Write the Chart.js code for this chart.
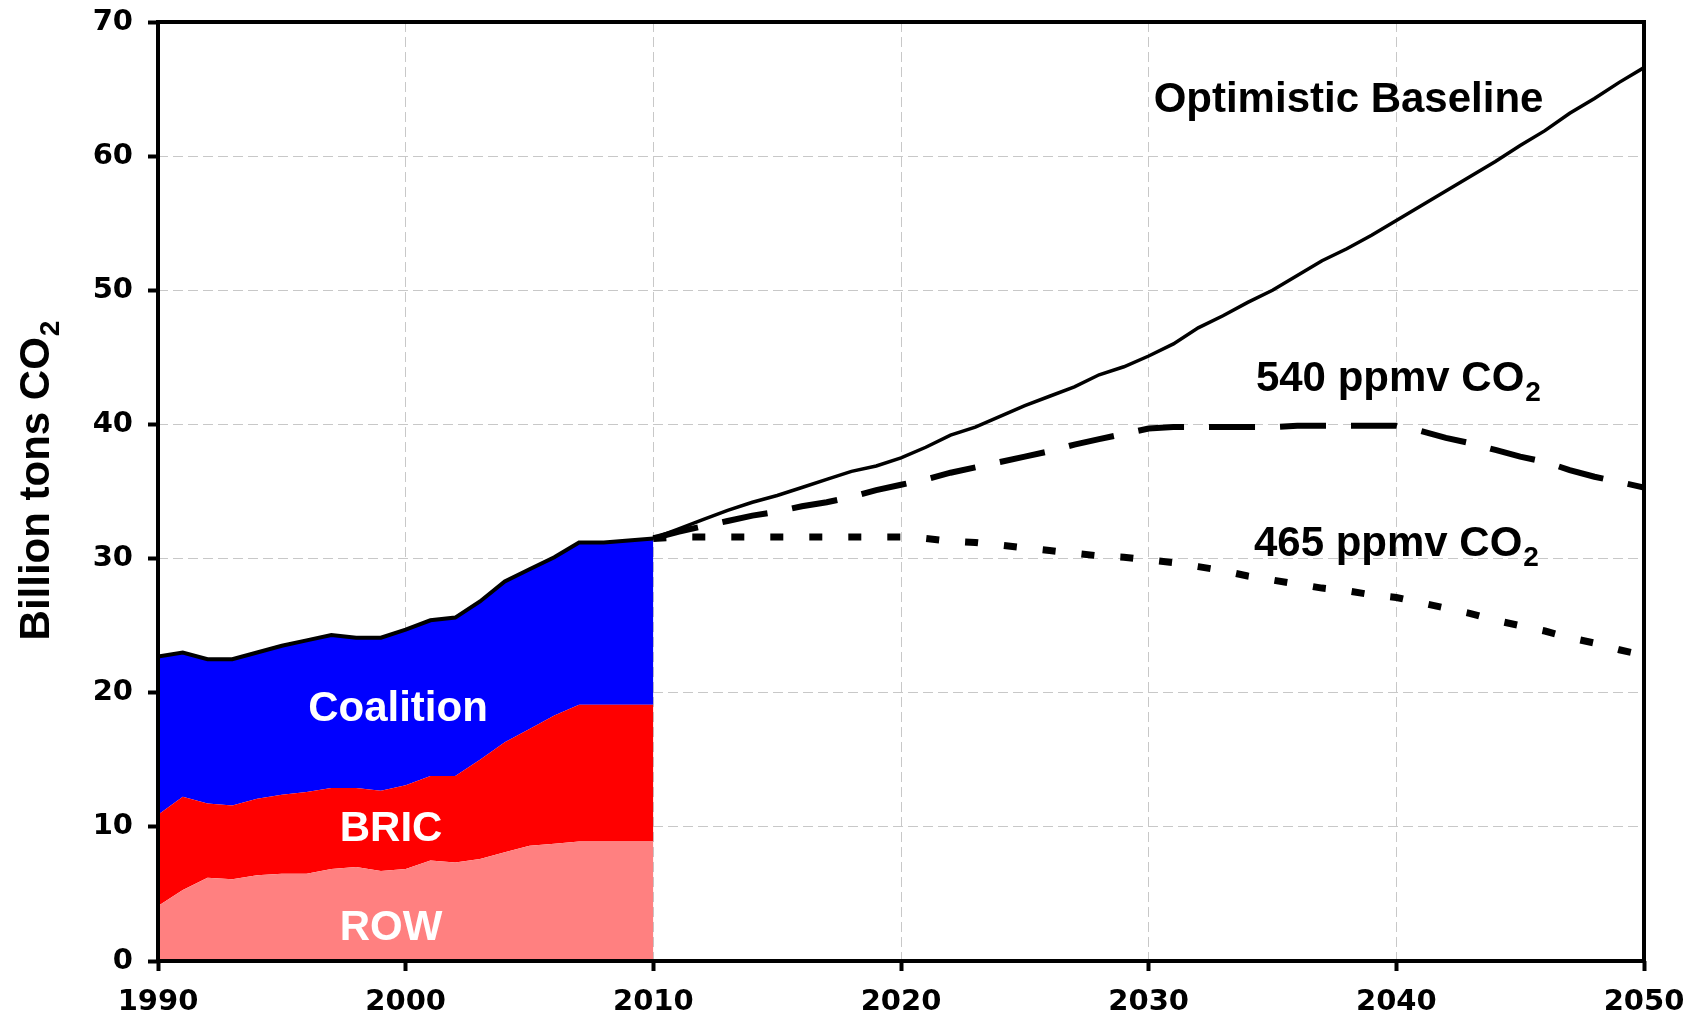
<!DOCTYPE html>
<html>
<head>
<meta charset="utf-8">
<script src="https://cdn.jsdelivr.net/npm/chart.js@4.4.1/dist/chart.umd.min.js"></script>
<style>
  html, body { margin: 0; padding: 0; background: #fff; }
  #chart { display: block; }
</style>
</head>
<body>
<canvas id="chart" width="1701" height="1022"></canvas>
<script>
// ── DATA ──
const histYears = [1990, 1991, 1992, 1993, 1994, 1995, 1996, 1997, 1998, 1999, 2000,
  2001, 2002, 2003, 2004, 2005, 2006, 2007, 2008, 2009, 2010];
const rowVals = [4.1, 5.3, 6.2, 6.1, 6.4, 6.5, 6.5, 6.85, 7.0, 6.7, 6.85,
  7.5, 7.35, 7.6, 8.1, 8.6, 8.75, 8.9, 8.9, 8.9, 8.9];
const bricVals = [6.8, 6.95, 5.55, 5.5, 5.7, 5.9, 6.1, 6.05, 5.9, 6.0, 6.25,
  6.3, 6.45, 7.4, 8.2, 8.7, 9.55, 10.2, 10.2, 10.2, 10.2];
const coalitionVals = [11.8, 10.75, 10.75, 10.9, 10.9, 11.1, 11.3, 11.4, 11.2, 11.4, 11.6,
  11.6, 11.8, 11.8, 12.0, 11.9, 11.8, 12.1, 12.1, 12.25, 12.4];

const projYears = [2010, 2011, 2012, 2013, 2014, 2015, 2016, 2017, 2018, 2019, 2020,
  2021, 2022, 2023, 2024, 2025, 2026, 2027, 2028, 2029, 2030,
  2031, 2032, 2033, 2034, 2035, 2036, 2037, 2038, 2039, 2040,
  2041, 2042, 2043, 2044, 2045, 2046, 2047, 2048, 2049, 2050];
const baselineVals = [31.5, 32.2, 32.9, 33.6, 34.2, 34.7, 35.3, 35.9, 36.5, 36.9, 37.5,
  38.3, 39.2, 39.8, 40.6, 41.4, 42.1, 42.8, 43.7, 44.3, 45.1,
  46.0, 47.2, 48.1, 49.1, 50.0, 51.1, 52.2, 53.1, 54.1, 55.2,
  56.3, 57.4, 58.5, 59.6, 60.8, 61.9, 63.2, 64.3, 65.5, 66.6];
const ppm540Vals = [31.5, 32.0, 32.4, 32.8, 33.2, 33.5, 33.9, 34.2, 34.6, 35.1, 35.5,
  35.9, 36.4, 36.8, 37.2, 37.6, 38.0, 38.5, 38.9, 39.3, 39.7,
  39.8, 39.8, 39.8, 39.8, 39.8, 39.9, 39.9, 39.9, 39.9, 39.9,
  39.5, 39.0, 38.6, 38.1, 37.6, 37.2, 36.6, 36.1, 35.7, 35.3];
const ppm465Vals = [31.5, 31.6, 31.6, 31.6, 31.6, 31.6, 31.6, 31.6, 31.6, 31.6, 31.6,
  31.5, 31.3, 31.2, 31.0, 30.8, 30.6, 30.4, 30.2, 30.1, 29.9,
  29.7, 29.4, 29.1, 28.7, 28.4, 28.1, 27.8, 27.6, 27.3, 27.1,
  26.7, 26.3, 25.9, 25.4, 25.0, 24.6, 24.1, 23.7, 23.2, 22.8];

const xTicks = [1990, 2000, 2010, 2020, 2030, 2040, 2050];
const yTicks = [0, 10, 20, 30, 40, 50, 60, 70];

// text labels, anchored in data units (year, value)
const notes = [
  { text: 'Optimistic Baseline', sub: '', x: 2038.07, y: 64.4, align: 'center', color: '#000' },
  { text: '540 ppmv CO', sub: '2', x: 2034.33, y: 43.6, align: 'left', color: '#000' },
  { text: '465 ppmv CO', sub: '2', x: 2034.25, y: 31.3, align: 'left', color: '#000' },
  { text: 'Coalition', sub: '', x: 1999.69, y: 19.0, align: 'center', color: '#fff' },
  { text: 'BRIC', sub: '', x: 1999.41, y: 10.1, align: 'center', color: '#fff' },
  { text: 'ROW', sub: '', x: 1999.41, y: 2.7, align: 'center', color: '#fff' }
];

const pts = (years, vals) => years.map((yr, i) => ({ x: yr, y: vals[i] }));

// ── TEXT WITH SUBSCRIPT ──
const MAIN_FONT = 'bold 42px "Liberation Sans", Arial, sans-serif';
const SUB_FONT = 'bold 28px "Liberation Sans", Arial, sans-serif';
function drawSubText(ctx, text, sub, x, baseline, align) {
  ctx.font = MAIN_FONT;
  const w1 = ctx.measureText(text).width;
  ctx.font = SUB_FONT;
  const w2 = sub ? ctx.measureText(sub).width : 0;
  let start = x;
  if (align === 'center') start = x - (w1 + w2) / 2;
  ctx.textAlign = 'left';
  ctx.textBaseline = 'alphabetic';
  ctx.font = MAIN_FONT;
  ctx.fillText(text, start, baseline);
  if (sub) {
    ctx.font = SUB_FONT;
    ctx.fillText(sub, start + w1 + 1, baseline + 10);
  }
}

const decor = {
  id: 'decor',
  afterDraw(chart) {
    const { ctx, chartArea: a, scales: { x, y } } = chart;
    ctx.save();
    // frame
    ctx.strokeStyle = '#000';
    ctx.lineWidth = 4;
    ctx.setLineDash([]);
    ctx.strokeRect(a.left, a.top, a.right - a.left, a.bottom - a.top);
    // notes
    notes.forEach(n => {
      ctx.fillStyle = n.color;
      const px = x.getPixelForValue(n.x);
      const py = y.getPixelForValue(n.y) + 15;
      drawSubText(ctx, n.text, n.sub, px, py, n.align);
    });
    // y axis title
    ctx.fillStyle = '#000';
    ctx.translate(49, 481);
    ctx.rotate(-Math.PI / 2);
    drawSubText(ctx, 'Billion tons CO', '2', 0, 0, 'center');
    ctx.restore();
  }
};

const tickFont = { family: '"DejaVu Sans", Verdana, sans-serif', size: 29, weight: 'bold' };
const gridStyle = {
  color: '#c8c8c8', lineWidth: 1,
  drawTicks: true, tickLength: 10, tickColor: '#000', tickWidth: 4, tickBorderDash: []
};

new Chart(document.getElementById('chart'), {
  type: 'line',
  data: {
    datasets: [
      { label: 'ROW', data: pts(histYears, rowVals), stack: 'hist', order: 1,
        backgroundColor: '#ff8080', borderWidth: 0, fill: 'origin', pointRadius: 0 },
      { label: 'BRIC', data: pts(histYears, bricVals), stack: 'hist', order: 1,
        backgroundColor: '#ff0000', borderWidth: 0, fill: '-1', pointRadius: 0 },
      { label: 'Coalition', data: pts(histYears, coalitionVals), stack: 'hist', order: 1,
        backgroundColor: '#0000ff', borderColor: '#000', borderWidth: 4, fill: '-1', pointRadius: 0 },
      { label: 'Optimistic Baseline', data: pts(projYears, baselineVals), stack: 'base', order: 0,
        borderColor: '#000', borderWidth: 3.5, fill: false, pointRadius: 0 },
      { label: '540 ppmv', data: pts(projYears, ppm540Vals), stack: 'p540', order: 0,
        borderColor: '#000', borderWidth: 6, borderDash: [46, 25], borderCapStyle: 'butt',
        fill: false, pointRadius: 0 },
      { label: '465 ppmv', data: pts(projYears, ppm465Vals), stack: 'p465', order: 0,
        borderColor: '#000', borderWidth: 7, borderDash: [13, 26], borderCapStyle: 'butt',
        fill: false, pointRadius: 0 }
    ]
  },
  options: {
    responsive: false,
    animation: false,
    layout: { padding: { top: 22, right: 57, left: 0, bottom: 0 } },
    plugins: { legend: { display: false }, tooltip: { enabled: false } },
    elements: { line: { tension: 0 } },
    scales: {
      x: {
        type: 'linear', min: 1990, max: 2050,
        afterFit: s => { s.height = 61; },
        afterBuildTicks: s => { s.ticks = xTicks.map(v => ({ value: v })); },
        ticks: { color: '#000', font: tickFont, padding: 14, maxRotation: 0, callback: v => String(v) },
        grid: gridStyle,
        border: { display: false, dash: [10, 5] }
      },
      y: {
        stacked: true, min: 0, max: 70,
        afterFit: s => { s.width = 158; s.paddingTop = 0; s.paddingBottom = 0; },
        afterBuildTicks: s => { s.ticks = yTicks.map(v => ({ value: v })); },
        ticks: { color: '#000', font: tickFont, padding: 15, callback: v => String(v) },
        grid: gridStyle,
        border: { display: false, dash: [10, 5] }
      }
    }
  },
  plugins: [decor]
});
</script>
</body>
</html>
